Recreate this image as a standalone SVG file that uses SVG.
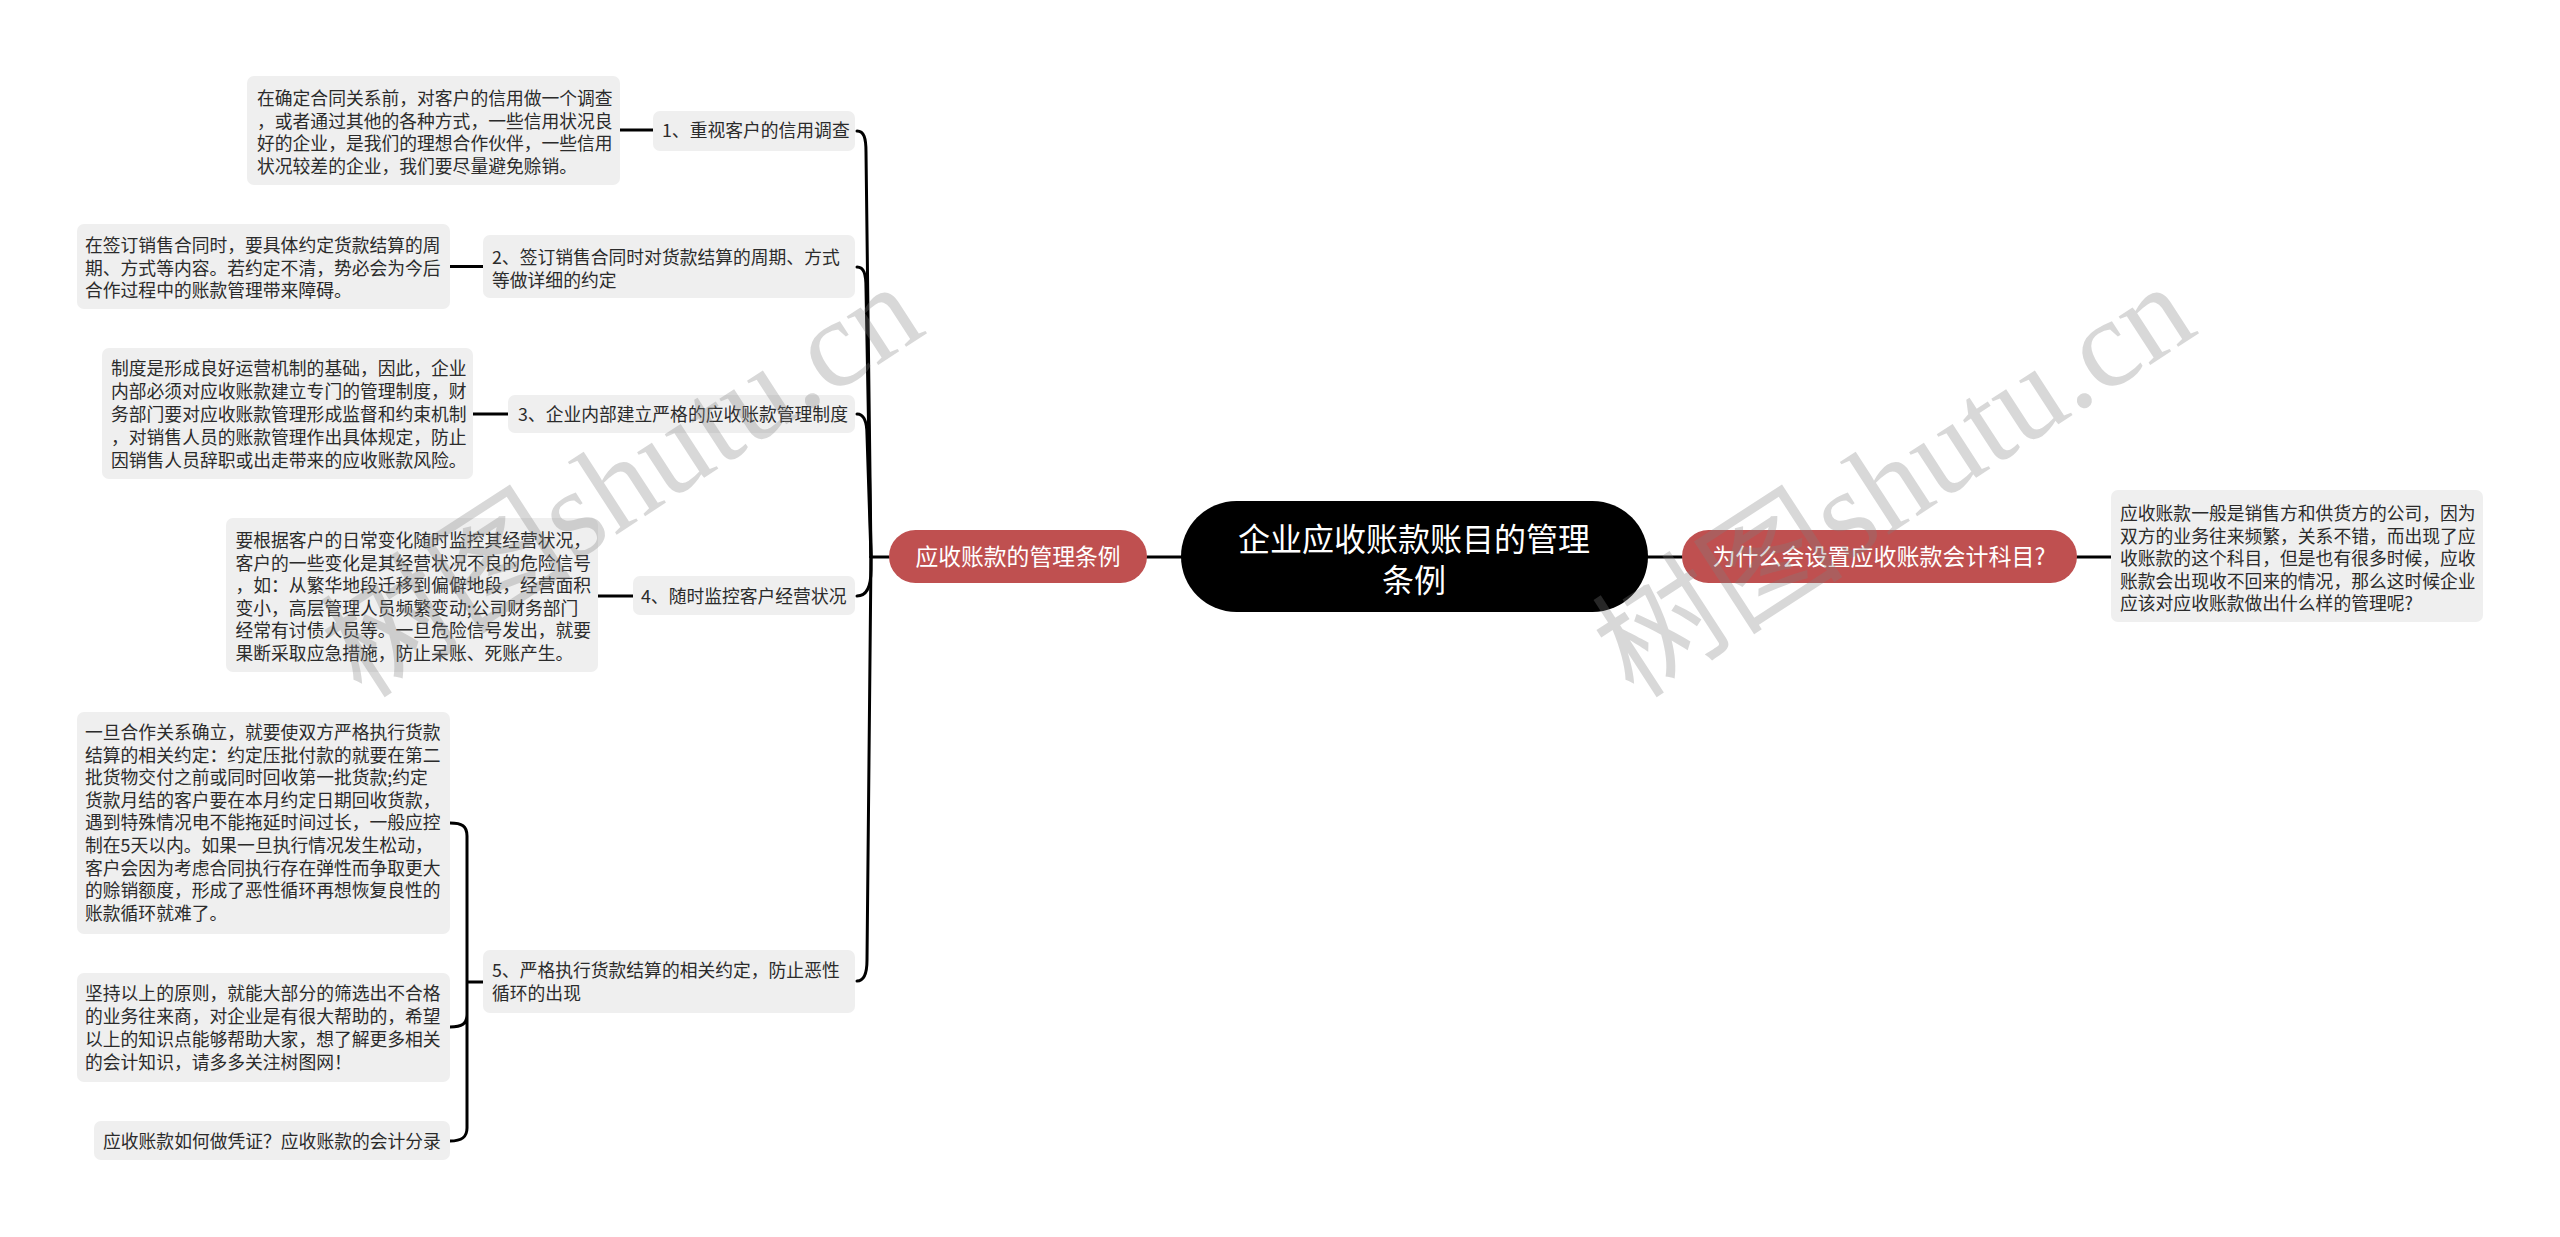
<svg xmlns="http://www.w3.org/2000/svg" width="2560" height="1237" viewBox="0 0 2560 1237">
<style>
.box{fill:#efefef}
.red{fill:#bf5050}
.t{font-family:"Noto Sans CJK SC","Noto Sans",sans-serif;font-size:17.8px;fill:#2b2b2b}
.w{font-family:"Noto Sans CJK SC","Noto Sans",sans-serif;fill:#ffffff}
.ln{fill:none;stroke:#000;stroke-width:3;stroke-linecap:round;stroke-linejoin:round}
.wm{font-family:"Liberation Serif","Noto Sans CJK SC",serif;font-size:126px;fill:#808080;opacity:0.3}
</style>
<rect width="2560" height="1237" fill="#ffffff"/>
<g id="connectors">
<path class="ln" d="M620 130H653M450 266.5H483M473 414H508M598 596H633"/>
<path class="ln" d="M871 557H889M1147 557H1181M1648 557H1682M2077 557H2111"/>
<path class="ln" d="M857 131C864 131 866 138 866 152L871 557"/>
<path class="ln" d="M857 267C864 267 866 274 866 288L871 557"/>
<path class="ln" d="M857 414C864 414 867 421 867 435L871 557"/>
<path class="ln" d="M857 596C866 596 871 588 871 570L871 557"/>
<path class="ln" d="M857 981C864 981 867 974 867 960L871 557"/>
<path class="ln" d="M450 823C462 823 467 826 467 836V1128C467 1137 462 1141 450 1141M467 982H483M450 1027C462 1027 467 1024 467 1014"/>
</g>
<g id="root">
<rect x="1181" y="501" width="467" height="111" rx="55.5" fill="#000"/>
<text class="w" font-size="32" text-anchor="middle"><tspan x="1414" y="551">企业应收账款账目的管理</tspan><tspan x="1414" y="592">条例</tspan></text>
</g>
<g id="branch-left">
<rect class="red" x="889" y="530" width="258" height="53" rx="26.5"/>
<text class="w" font-size="22.8" text-anchor="middle" x="1018" y="565">应收账款的管理条例</text>
</g>
<g id="branch-right">
<rect class="red" x="1682" y="530" width="395" height="53" rx="26.5"/>
<text class="w" font-size="23" text-anchor="middle" x="1879" y="565">为什么会设置应收账款会计科目?</text>
</g>
<g id="leaf-right">
<rect class="box" x="2111" y="490" width="372" height="132" rx="7"/>
<text class="t"><tspan x="2120" y="520">应收账款一般是销售方和供货方的公司，因为</tspan><tspan x="2120" y="542.5">双方的业务往来频繁，关系不错，而出现了应</tspan><tspan x="2120" y="565">收账款的这个科目，但是也有很多时候，应收</tspan><tspan x="2120" y="587.5">账款会出现收不回来的情况，那么这时候企业</tspan><tspan x="2120" y="610">应该对应收账款做出什么样的管理呢?</tspan></text>
</g>
<g id="node1">
<rect class="box" x="653" y="111" width="202" height="40" rx="7"/>
<text class="t" x="662" y="137">1、重视客户的信用调查</text>
</g>
<g id="leaf1">
<rect class="box" x="247" y="76" width="373" height="109" rx="7"/>
<text class="t"><tspan x="257" y="105">在确定合同关系前，对客户的信用做一个调查</tspan><tspan x="257" y="127.6">，或者通过其他的各种方式，一些信用状况良</tspan><tspan x="257" y="150.2">好的企业，是我们的理想合作伙伴，一些信用</tspan><tspan x="257" y="172.8">状况较差的企业，我们要尽量避免赊销。</tspan></text>
</g>
<g id="node2">
<rect class="box" x="483" y="235" width="372" height="63" rx="7"/>
<text class="t"><tspan x="492" y="264">2、签订销售合同时对货款结算的周期、方式</tspan><tspan x="492" y="286.6">等做详细的约定</tspan></text>
</g>
<g id="leaf2">
<rect class="box" x="77" y="224" width="373" height="85" rx="7"/>
<text class="t"><tspan x="85" y="252">在签订销售合同时，要具体约定货款结算的周</tspan><tspan x="85" y="274.5">期、方式等内容。若约定不清，势必会为今后</tspan><tspan x="85" y="297">合作过程中的账款管理带来障碍。</tspan></text>
</g>
<g id="node3">
<rect class="box" x="508" y="395" width="347" height="38" rx="7"/>
<text class="t" x="518" y="421">3、企业内部建立严格的应收账款管理制度</text>
</g>
<g id="leaf3">
<rect class="box" x="102" y="348" width="371" height="131" rx="7"/>
<text class="t"><tspan x="111" y="375">制度是形成良好运营机制的基础，因此，企业</tspan><tspan x="111" y="398">内部必须对应收账款建立专门的管理制度，财</tspan><tspan x="111" y="421">务部门要对应收账款管理形成监督和约束机制</tspan><tspan x="111" y="444">，对销售人员的账款管理作出具体规定，防止</tspan><tspan x="111" y="467">因销售人员辞职或出走带来的应收账款风险。</tspan></text>
</g>
<g id="node4">
<rect class="box" x="633" y="576" width="222" height="39" rx="7"/>
<text class="t" x="641" y="603">4、随时监控客户经营状况</text>
</g>
<g id="leaf4">
<rect class="box" x="226" y="518" width="372" height="154" rx="7"/>
<text class="t"><tspan x="235.5" y="547">要根据客户的日常变化随时监控其经营状况，</tspan><tspan x="235.5" y="569.5">客户的一些变化是其经营状况不良的危险信号</tspan><tspan x="235.5" y="592">，如：从繁华地段迁移到偏僻地段，经营面积</tspan><tspan x="235.5" y="614.5">变小，高层管理人员频繁变动;公司财务部门</tspan><tspan x="235.5" y="637">经常有讨债人员等。一旦危险信号发出，就要</tspan><tspan x="235.5" y="659.5">果断采取应急措施，防止呆账、死账产生。</tspan></text>
</g>
<g id="node5">
<rect class="box" x="483" y="950" width="372" height="63" rx="7"/>
<text class="t"><tspan x="492" y="977">5、严格执行货款结算的相关约定，防止恶性</tspan><tspan x="492" y="1000">循环的出现</tspan></text>
</g>
<g id="leaf5a">
<rect class="box" x="77" y="712" width="373" height="222" rx="7"/>
<text class="t"><tspan x="85" y="739">一旦合作关系确立，就要使双方严格执行货款</tspan><tspan x="85" y="761.6">结算的相关约定：约定压批付款的就要在第二</tspan><tspan x="85" y="784.2">批货物交付之前或同时回收第一批货款;约定</tspan><tspan x="85" y="806.8">货款月结的客户要在本月约定日期回收货款，</tspan><tspan x="85" y="829.4">遇到特殊情况电不能拖延时间过长，一般应控</tspan><tspan x="85" y="852">制在5天以内。如果一旦执行情况发生松动，</tspan><tspan x="85" y="874.6">客户会因为考虑合同执行存在弹性而争取更大</tspan><tspan x="85" y="897.2">的赊销额度，形成了恶性循环再想恢复良性的</tspan><tspan x="85" y="919.8">账款循环就难了。</tspan></text>
</g>
<g id="leaf5b">
<rect class="box" x="77" y="973" width="373" height="109" rx="7"/>
<text class="t"><tspan x="85" y="1000">坚持以上的原则，就能大部分的筛选出不合格</tspan><tspan x="85" y="1023">的业务往来商，对企业是有很大帮助的，希望</tspan><tspan x="85" y="1046">以上的知识点能够帮助大家，想了解更多相关</tspan><tspan x="85" y="1069">的会计知识，请多多关注树图网！</tspan></text>
</g>
<g id="leaf5c">
<rect class="box" x="94" y="1121" width="356" height="39" rx="7"/>
<text class="t" x="103" y="1148">应收账款如何做凭证？应收账款的会计分录</text>
</g>
<g id="watermarks">
<text class="wm" transform="translate(362,700) rotate(-33)">树图shutu.cn</text>
<text class="wm" transform="translate(1634,700) rotate(-33)">树图shutu.cn</text>
</g>
</svg>
